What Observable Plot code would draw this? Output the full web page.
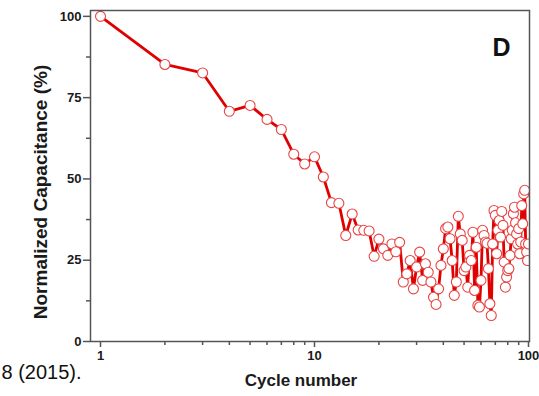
<!DOCTYPE html>
<html><head><meta charset="utf-8">
<script src="https://cdn.jsdelivr.net/npm/d3@7"></script>
<script src="https://cdn.jsdelivr.net/npm/@observablehq/plot@0.6"></script>
<style>body{margin:0;background:#fff} svg{display:block}</style>
</head><body><div id="chart"></div>
<script>
const cycles = [1,2,3,4,5,6,7,8,9,10,11,12,13,14,15,16,17,18,19,20,
  21,22,23,24,25,26,27,28,29,30,31,32,33,34,35,36,37,38,39,40,
  41,42,43,44,45,46,47,48,49,50,51,52,53,54,55,56,57,58,59,60,
  61,62,63,64,65,66,67,68,69,70,71,72,73,74,75,76,77,78,79,80,
  81,82,83,84,85,86,87,88,89,90,91,92,93,94,95,96,97,98,99,100];
const capacitance = [100,85.2,82.6,70.8,72.6,68.3,65.2,57.6,54.6,56.8,
  50.6,42.7,42.5,32.6,39.2,34.3,34.2,34.0,26.2,31.5,
  28.5,26.5,30.0,27.6,30.5,18.3,20.8,24.9,16.2,22.9,
  27.5,18.8,23.9,21.3,18.3,13.6,11.4,16.2,23.4,28.5,
  34.7,35.2,31.6,24.9,14.2,18.3,38.5,33.1,31.1,21.8,
  22.9,16.7,26.5,24.9,33.6,15.7,29.0,11.1,10.6,18.8,
  34.2,32.6,30.6,30.2,22.4,11.6,8.0,30.0,40.3,38.8,
  27.0,34.2,37.2,32.1,40.0,35.7,24.4,16.7,19.8,21.8,
  22.4,26.5,31.6,34.2,39.3,41.3,36.5,33.1,30.0,34.7,
  27.0,30.6,41.8,36.2,45.4,46.5,30.0,27.5,24.9,30.0];
const yTicks = [0, 25, 50, 75, 100];
const yMinorTicks = [12.5, 37.5, 62.5, 87.5];
const xTicks = [1, 10, 100];
const xMinorTicks = [2,3,4,5,6,7,8,9,20,30,40,50,60,70,80,90];
const panelLabel = "D";
const xLabel = "Cycle number";
const yLabel = "Normalized Capacitance (%)";
const captionText = "8 (2015).";

const data = cycles.map((c, i) => ({cycle: c, value: capacitance[i]}));
const axisColor = "#555";

const chart = Plot.plot({
  width: 539, height: 396,
  marginLeft: 90, marginRight: 10, marginTop: 10, marginBottom: 55,
  style: {fontFamily: "'Liberation Sans', Arial, sans-serif", background: "#fff", color: "#1a1a1a", overflow: "visible"},
  x: {type: "log", domain: [0.898, 101.1]},
  y: {domain: [0, 101.8]},
  marks: [
    Plot.axisY({ticks: yMinorTicks, tickSize: 4, tickFormat: () => "", label: null, stroke: axisColor, strokeWidth: 1.5}),
    Plot.axisY({ticks: yTicks, tickSize: 7, tickPadding: 2, fontSize: 13, fontWeight: "bold", label: null, stroke: axisColor, strokeWidth: 1.5}),
    Plot.axisX({ticks: xMinorTicks, tickSize: 4, tickFormat: () => "", label: null, stroke: axisColor, strokeWidth: 1.5}),
    Plot.axisX({ticks: xTicks, tickSize: 6, tickPadding: 3, tickFormat: d => String(d), fontSize: 13, fontWeight: "bold", label: null, stroke: axisColor, strokeWidth: 1.5}),
    Plot.line(data, {x: "cycle", y: "value", stroke: "#e00000", strokeWidth: 2.8, clip: true}),
    Plot.dot(data, {x: "cycle", y: "value", r: 5, fill: "white", stroke: "#e84545", strokeWidth: 1.1, clip: true}),
    Plot.frame({stroke: axisColor, strokeWidth: 1.5}),
    Plot.text([panelLabel], {frameAnchor: "top-right", dx: -19, dy: 28, fontSize: 25, fontWeight: "bold", fill: "#111"}),
    Plot.text([yLabel], {frameAnchor: "left", rotate: -90, dx: -50, dy: 16, fontSize: 19, fontWeight: "bold", fill: "#1a1a1a", textAnchor: "middle", style: {letterSpacing: "0.5px"}}),
    Plot.text([xLabel], {frameAnchor: "bottom", dx: -9, dy: 44, fontSize: 17, fontWeight: "bold", fill: "#1a1a1a"}),
    Plot.text([captionText], {frameAnchor: "bottom-left", textAnchor: "start", dx: -89, dy: 37, fontSize: 20, fill: "#111"})
  ]
});
document.getElementById("chart").appendChild(chart);
</script>
</body></html>
